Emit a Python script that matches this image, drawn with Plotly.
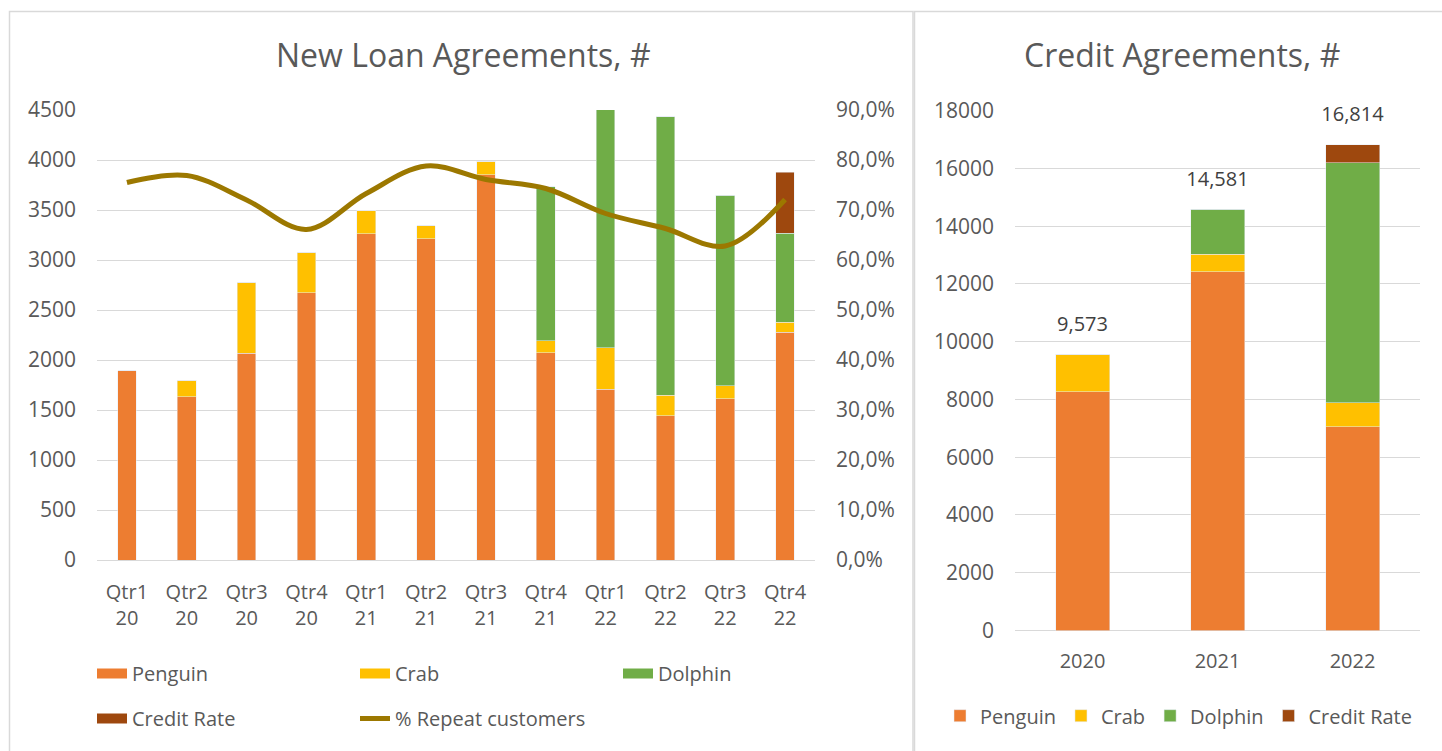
import plotly.graph_objects as go

# ---------------- data ----------------
quarters = ["Qtr1<br>20", "Qtr2<br>20", "Qtr3<br>20", "Qtr4<br>20",
            "Qtr1<br>21", "Qtr2<br>21", "Qtr3<br>21", "Qtr4<br>21",
            "Qtr1<br>22", "Qtr2<br>22", "Qtr3<br>22", "Qtr4<br>22"]
penguin_q = [1895, 1635, 2070, 2675, 3265, 3215, 3855, 2075, 1710, 1445, 1615, 2280]
crab_q = [0, 165, 710, 405, 235, 130, 135, 120, 415, 205, 130, 100]
dolphin_q = [0, 0, 0, 0, 0, 0, 0, 1540, 2730, 2785, 1905, 890]
credit_q = [0, 0, 0, 0, 0, 0, 0, 0, 0, 0, 0, 610]
repeat_pct = [0.755, 0.769, 0.720, 0.661, 0.733, 0.788, 0.761, 0.743, 0.693, 0.663, 0.628, 0.721]

years = ["2020", "2021", "2022"]
penguin_y = [8270, 12415, 7047]
crab_y = [1303, 613, 842]
dolphin_y = [0, 1553, 8311]
credit_y = [0, 0, 614]

series_names = ["Penguin", "Crab", "Dolphin", "Credit Rate"]
colors = ["#ED7D31", "#FFC000", "#70AD47", "#9E480E"]
line_color = "#9C7800"
text_color = "#595959"
grid_color = "#D9D9D9"
FONT = "Open Sans"

W, H = 1442, 751
def px_x(v):
    return v / W
def px_y(v):
    return 1 - v / H

fig = go.Figure()

# left panel: stacked quarterly bars (legend shown through wide swatch entries)
left_series = [penguin_q, crab_q, dolphin_q, credit_q]
for name, vals, col in zip(series_names, left_series, colors):
    lg = "legend3" if name == "Credit Rate" else "legend"
    fig.add_trace(go.Bar(
        x=quarters, y=vals, name=name, marker_color=col, width=0.31,
        xaxis="x", yaxis="y", legendgroup="L" + name, showlegend=False,
    ))
    # legend entry drawn as a wide swatch, like the original
    fig.add_trace(go.Scatter(
        x=[None], y=[None], name=name, mode="lines",
        line=dict(color=col, width=14), legendgroup="L" + name,
        xaxis="x", yaxis="y", legend=lg, hoverinfo="skip",
    ))

fig.add_trace(go.Scatter(
    x=quarters, y=repeat_pct, name="% Repeat customers", mode="lines",
    line=dict(color=line_color, width=5, shape="spline"),
    xaxis="x", yaxis="y2", legend="legend3",
))

# right panel: stacked yearly bars
right_series = [penguin_y, crab_y, dolphin_y, credit_y]
for name, vals, col in zip(series_names, right_series, colors):
    fig.add_trace(go.Bar(
        x=years, y=vals, name=name, marker_color=col, width=0.4,
        xaxis="x2", yaxis="y3", legend="legend2",
    ))

totals = [sum(v) for v in zip(*right_series)]
fig.add_trace(go.Scatter(
    x=years, y=totals, mode="markers+text",
    text=[f"{t:,}" for t in totals], textposition="top center",
    textfont=dict(family=FONT, size=20, color="#404040"),
    marker=dict(size=28, color="rgba(0,0,0,0)"),
    cliponaxis=False,
    showlegend=False, hoverinfo="skip", xaxis="x2", yaxis="y3",
))

axis_font = dict(family=FONT, size=20, color=text_color)
num_font = dict(family=FONT, size=21, color=text_color)

legend_common = dict(
    orientation="h", font=axis_font, bgcolor="rgba(0,0,0,0)",
    xanchor="left", yanchor="middle", borderwidth=0, traceorder="normal",
)

fig.update_layout(
    width=W, height=H,
    margin=dict(l=0, r=0, t=0, b=0, autoexpand=False),
    paper_bgcolor="white", plot_bgcolor="white",
    barmode="stack",
    separators=", ",
    font=dict(family=FONT, color=text_color),
    xaxis=dict(domain=[px_x(97), px_x(815)], anchor="y", automargin=False,
               showgrid=False, showline=False, ticks="",
               tickfont=axis_font, ticklabelstandoff=18),
    yaxis=dict(domain=[px_y(560), px_y(110)], anchor="x", automargin=False,
               range=[0, 4500], dtick=500, tickformat="d",
               showgrid=True, gridcolor=grid_color, gridwidth=1.3,
               zeroline=True, zerolinecolor=grid_color, zerolinewidth=1.3,
               showline=False, ticks="", tickfont=num_font,
               ticklabelstandoff=20),
    yaxis2=dict(overlaying="y", side="right", anchor="x", automargin=False,
                range=[0, 0.9], dtick=0.1, tickformat=".1%",
                showgrid=False, zeroline=False, showline=False, ticks="",
                tickfont=num_font, ticklabelstandoff=20),
    xaxis2=dict(domain=[px_x(1015), px_x(1420)], anchor="y3", automargin=False,
                showgrid=False, showline=False, ticks="",
                tickfont=axis_font, ticklabelstandoff=16),
    yaxis3=dict(domain=[px_y(630.5), px_y(110.7)], anchor="x2", automargin=False,
                range=[0, 18000], dtick=2000, tickformat="d",
                showgrid=True, gridcolor=grid_color, gridwidth=1.3,
                zeroline=True, zerolinecolor=grid_color, zerolinewidth=1.3,
                showline=False, ticks="", tickfont=num_font,
                ticklabelstandoff=20),
    legend=dict(**legend_common, x=px_x(92), y=px_y(673.5),
                entrywidth=218, entrywidthmode="pixels"),
    legend3=dict(**legend_common, x=px_x(92), y=px_y(718.5),
                 entrywidth=218, entrywidthmode="pixels"),
    legend2=dict(**legend_common, x=px_x(940), y=px_y(715.7)),
    annotations=[
        dict(text="New Loan Agreements, #", xref="paper", yref="paper",
             x=px_x(463.5), y=px_y(55), xanchor="center", yanchor="middle",
             showarrow=False, font=dict(family=FONT, size=32, color=text_color)),
        dict(text="Credit Agreements, #", xref="paper", yref="paper",
             x=px_x(1181.5), y=px_y(55), xanchor="center", yanchor="middle",
             showarrow=False, font=dict(family=FONT, size=32, color=text_color)),
    ],
    shapes=[
        dict(type="rect", xref="paper", yref="paper",
             x0=px_x(9.5), x1=px_x(913), y0=px_y(770), y1=px_y(11.5),
             line=dict(color=grid_color, width=1.5), fillcolor="rgba(0,0,0,0)",
             layer="below"),
        dict(type="rect", xref="paper", yref="paper",
             x0=px_x(914.5), x1=px_x(1460), y0=px_y(770), y1=px_y(11.5),
             line=dict(color=grid_color, width=1.5), fillcolor="rgba(0,0,0,0)",
             layer="below"),
    ],
)

fig.write_html("out.html",
               config={"displayModeBar": False},
               post_script="document.body.style.margin='0px';document.body.style.overflow='hidden';")
